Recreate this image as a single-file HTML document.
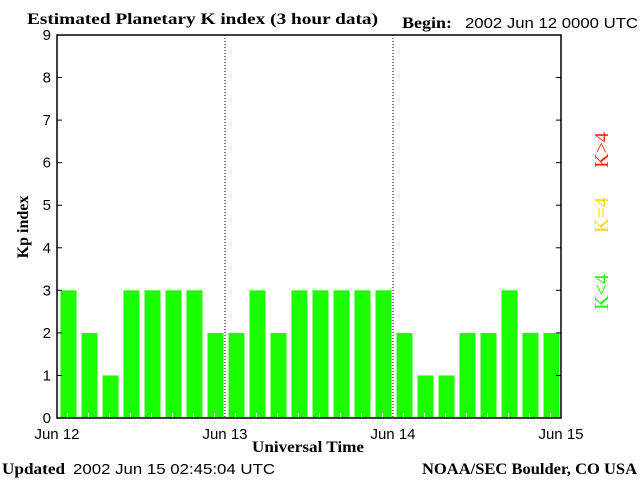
<!DOCTYPE html>
<html><head><meta charset="utf-8"><style>
body{margin:0;background:#fff;}
svg{display:block;}
.s{font-family:"Liberation Serif",serif;font-weight:bold;font-size:16px;}
.n{font-family:"Liberation Sans",sans-serif;font-size:15px;}
</style></head><body>
<svg id="c" width="640" height="480" xmlns="http://www.w3.org/2000/svg">
<text class="s" x="27" y="24" textLength="351" lengthAdjust="spacingAndGlyphs">Estimated Planetary K index (3 hour data)</text>
<text class="s" x="402" y="28" textLength="50" lengthAdjust="spacingAndGlyphs">Begin:</text>
<text class="n" x="465" y="28" textLength="173" lengthAdjust="spacingAndGlyphs">2002 Jun 12 0000 UTC</text>
<text class="s" x="2" y="474" textLength="63" lengthAdjust="spacingAndGlyphs">Updated</text>
<text class="n" x="73" y="474" textLength="202" lengthAdjust="spacingAndGlyphs">2002 Jun 15 02:45:04 UTC</text>
<text class="s" x="422" y="474" textLength="215" lengthAdjust="spacingAndGlyphs">NOAA/SEC Boulder, CO USA</text>
<text class="s" x="252" y="452" textLength="112" lengthAdjust="spacingAndGlyphs">Universal Time</text>
<text class="s" transform="translate(28,227) rotate(-90)" text-anchor="middle">Kp index</text>
<text class="s" transform="translate(608,150) rotate(-90)" text-anchor="middle" fill="#ff2a00" style="font-size:20px;font-weight:normal">K&gt;4</text>
<text class="s" transform="translate(608,215) rotate(-90)" text-anchor="middle" fill="#ffd700" style="font-size:20px;font-weight:normal">K=4</text>
<text class="s" transform="translate(608,292) rotate(-90)" text-anchor="middle" fill="#22ee00" style="font-size:20px;font-weight:normal">K&lt;4</text>
<g id="plot"></g>
</svg>
<script>
const kpValues=[3,2,1,3,3,3,3,2, 2,3,2,3,3,3,3,3, 2,1,1,2,2,3,2,2];
const yTicks=[0,1,2,3,4,5,6,7,8,9];
const dayLabels=["Jun 12","Jun 13","Jun 14","Jun 15"];
const L=57,R=561,T=35,B=418;
const NS="http://www.w3.org/2000/svg";
const g=document.getElementById('plot');
function x(i){return L+(R-L)*i/kpValues.length;}
function y(v){return B-(B-T)*v/9;}
function mk(t,a){const e=document.createElementNS(NS,t);for(const k in a)e.setAttribute(k,a[k]);g.appendChild(e);return e;}
const slot=(R-L)/kpValues.length;
kpValues.forEach((v,i)=>{
  const col=v>4?'#ff2a00':(v==4?'#ffd700':'#1cff00');
  const r=mk('rect',{x:x(i)+3.5,y:y(v),width:slot-5,height:B-y(v),fill:col});
  
  
  const t=mk('line',{x1:x(i)+slot/2,x2:x(i)+slot/2,y1:B-5,y2:B,stroke:'#fff'});
  
  
});
for(let d=1;d<dayLabels.length-1;d++){
  const px=x(d*8);
  const l=mk('line',{x1:px,x2:px,y1:T,y2:B,stroke:'#000','stroke-dasharray':'1,2'});
  
  
}
const fr=mk('rect',{x:L,y:T,width:R-L,height:B-T,fill:'none',stroke:'#000','stroke-width':1.5});


yTicks.forEach(v=>{
  mk('line',{x1:L,x2:L+5,y1:y(v),y2:y(v),stroke:'#000'});
  mk('line',{x1:R-5,x2:R,y1:y(v),y2:y(v),stroke:'#000'});
  const t=mk('text',{x:L-6,y:y(v)+5,'text-anchor':'end',class:'n'});
  t.textContent=v;
  
  
});
dayLabels.forEach((s,d)=>{
  const t=mk('text',{x:x(d*8),y:439,'text-anchor':'middle',class:'n'});
  t.textContent=s;
  
  
});
</script>
</body></html>
